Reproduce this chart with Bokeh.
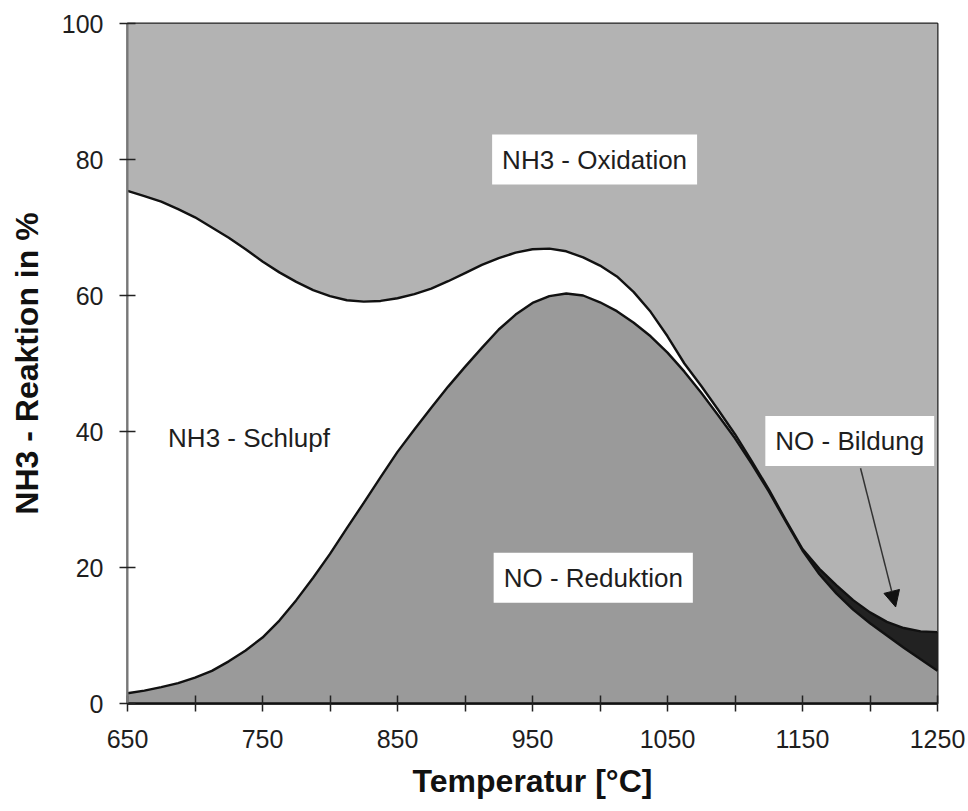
from bokeh.plotting import figure
from bokeh.models import FixedTicker, Label, Arrow, NormalHead, Range1d
from bokeh.embed import file_html
from bokeh.resources import INLINE

# ---- data ----
temperature = [650, 662.5, 675, 687.5, 700, 712.5, 725, 737.5, 750, 762.5, 775, 787.5, 800,
               812.5, 825, 837.5, 850, 862.5, 875, 887.5, 900, 912.5, 925, 937.5, 950,
               962.5, 975, 987.5, 1000, 1012.5, 1025, 1037.5, 1050, 1062.5, 1075, 1087.5,
               1100, 1112.5, 1125, 1137.5, 1150, 1162.5, 1175, 1187.5, 1200, 1212.5, 1225,
               1237.5, 1250]
# upper edge of the "NO - Reduktion" area
no_reduktion = [1.5, 1.9, 2.4, 3.0, 3.8, 4.8, 6.2, 7.8, 9.7, 12.2, 15.2, 18.5, 22.0,
                25.8, 29.5, 33.3, 37.0, 40.3, 43.5, 46.6, 49.5, 52.3, 55.0, 57.2, 58.9,
                59.9, 60.3, 60.0, 59.0, 57.7, 56.0, 54.0, 51.6, 48.8, 45.7, 42.4,
                39.0, 35.2, 31.2, 26.8, 22.5, 19.0, 16.2, 13.8, 11.8, 10.0, 8.2,
                6.5, 4.8]
# lower edge of the "NH3 - Oxidation" area
oxidation_start = [75.4, 74.6, 73.8, 72.7, 71.5, 70.0, 68.5, 66.8, 65.0, 63.4, 62.0, 60.8, 59.9,
                   59.3, 59.1, 59.2, 59.6, 60.2, 61.0, 62.1, 63.3, 64.5, 65.5, 66.3, 66.8,
                   66.9, 66.5, 65.6, 64.4, 62.8, 60.5, 57.6, 54.0, 50.0, 46.7, 43.2,
                   39.6, 35.6, 31.5, 27.0, 22.7, 19.8, 17.4, 15.2, 13.4, 12.0, 11.1,
                   10.6, 10.5]
merge_temperature = 1150  # Schlupf ends, NO-Bildung begins

x_major = [650, 750, 850, 950, 1050, 1150, 1250]
x_minor = [700, 800, 900, 1000, 1100, 1200]
y_ticks = [0, 20, 40, 60, 80, 100]

FONT = "Liberation Sans"
C_OX = "#b3b3b3"
C_RED = "#9a9a9a"
C_BILD = "#222222"

p = figure(width=968, height=811, output_backend="svg", toolbar_location=None,
           x_range=Range1d(650, 1250), y_range=Range1d(0, 100),
           min_border_left=127, min_border_right=31, min_border_top=23, min_border_bottom=108)
p.background_fill_color = "white"
p.border_fill_color = "white"
p.grid.visible = False
p.outline_line_color = "#222222"
p.outline_line_width = 2

top = [100] * len(temperature)
zero = [0] * len(temperature)
k = temperature.index(merge_temperature)

# areas
p.varea(x=temperature, y1=oxidation_start, y2=top, fill_color=C_OX)
p.varea(x=temperature, y1=zero, y2=no_reduktion, fill_color=C_RED)
p.varea(x=temperature[:k + 1], y1=no_reduktion[:k + 1], y2=oxidation_start[:k + 1], fill_color="white")
p.varea(x=temperature[k:], y1=no_reduktion[k:], y2=oxidation_start[k:], fill_color=C_BILD)

# boundary lines
p.line(temperature, oxidation_start, line_color="#111111", line_width=2.4, line_join="round")
p.line(temperature, no_reduktion, line_color="#111111", line_width=2.4, line_join="round")

# axes
p.xaxis.ticker = FixedTicker(ticks=x_major, minor_ticks=x_minor)
p.yaxis.ticker = FixedTicker(ticks=y_ticks, minor_ticks=[])
for ax in (p.xaxis[0], p.yaxis[0]):
    ax.major_tick_in = 8
    ax.major_tick_out = 8
    ax.minor_tick_in = 8
    ax.minor_tick_out = 8
    ax.major_tick_line_color = "#222222"
    ax.minor_tick_line_color = "#222222"
    ax.major_tick_line_width = 1.5
    ax.minor_tick_line_width = 1.5
    ax.major_label_text_font = FONT
    ax.major_label_text_font_size = "25px"
    ax.major_label_text_color = "#1e1e1e"
    ax.axis_label_text_font = FONT
    ax.axis_label_text_font_size = "32px"
    ax.axis_label_text_font_style = "bold"
    ax.axis_label_text_color = "#111111"

p.xaxis.axis_line_color = "#111111"
p.xaxis.axis_line_width = 2.5
p.yaxis.axis_line_color = "#777777"
p.yaxis.axis_line_width = 2
p.xaxis.major_label_standoff = 18
p.yaxis.major_label_standoff = 16
p.xaxis.axis_label = "Temperatur [°C]"
p.yaxis.axis_label = "NH3 - Reaktion in %"
p.xaxis.axis_label_standoff = 12
p.yaxis.axis_label_standoff = 14

# in-plot labels
def add_label(x, y, text, bg=True):
    lab = Label(x=x, y=y, text=text, text_align="center", text_baseline="middle",
                text_font=FONT, text_font_size="26px", text_color="#1e1e1e")
    if bg:
        lab.background_fill_color = "white"
        lab.padding = 10
    p.add_layout(lab)

add_label(996, 80, "NH3 - Oxidation")
add_label(740, 39, "NH3 - Schlupf", bg=False)
add_label(995, 18.5, "NO - Reduktion")
add_label(1185, 38.6, "NO - Bildung")

p.add_layout(Arrow(end=NormalHead(size=16, fill_color="#111111", line_color="#111111"),
                   x_start=1193, y_start=34.6, x_end=1219, y_end=14.2,
                   line_color="#333333", line_width=1.5))

open("out.html", "w").write(file_html(p, INLINE))
